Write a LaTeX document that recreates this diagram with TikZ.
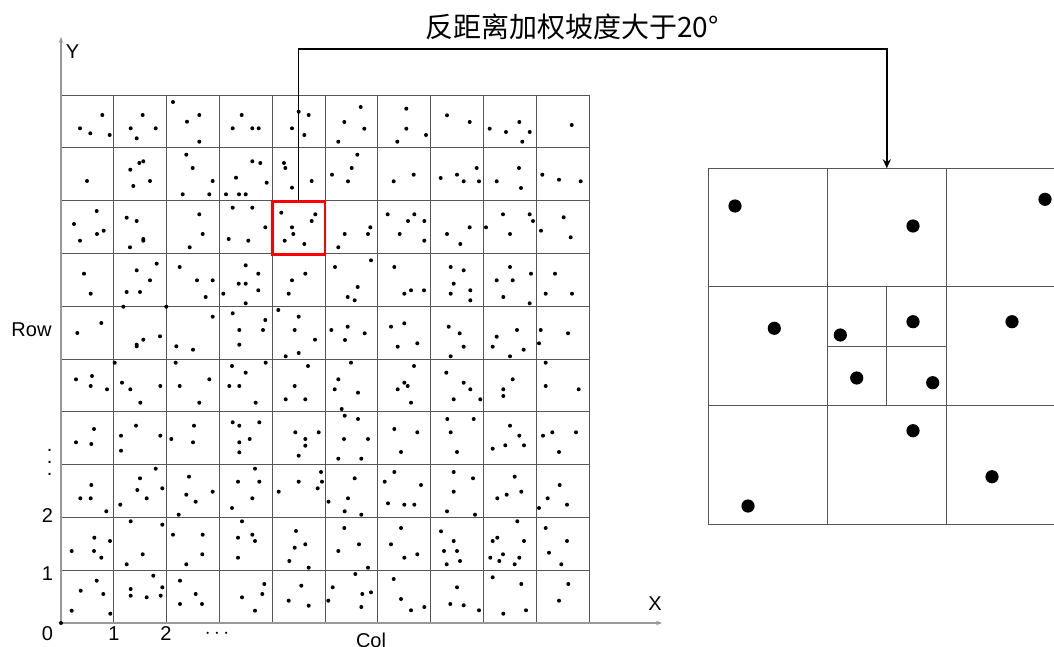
\documentclass[tikz,border=0pt]{standalone}
\usepackage{fontspec}
\setmainfont{Liberation Sans}
\newfontfamily\cjk{Noto Sans CJK SC}
\usetikzlibrary{arrows.meta}
\definecolor{gridc}{HTML}{555555}
\definecolor{axisc}{HTML}{999999}
\definecolor{boxred}{HTML}{FF0000}
\tikzset{
  gridline/.style={draw=gridc, line width=0.9pt},
  axisline/.style={draw=axisc, line width=1.4pt, -{Stealth[length=6pt,width=4.5pt]}},
  smalldot/.style={fill=black},
  bigdot/.style={fill=black},
  lbl/.style={font=\fontsize{20}{23}\selectfont, inner sep=0pt},
  conn/.style={draw=black, line width=1.6pt, -{Stealth[length=9pt,width=8pt]}},
  redframe/.style={draw=boxred, line width=2.6pt, inner sep=0pt, outer sep=0pt,
     minimum width=52.8pt, minimum height=52.8pt},
  panelframe/.style={draw=gridc, line width=0.9pt, inner sep=0pt, outer sep=0pt,
     minimum width=357pt, minimum height=356pt}
}
\begin{document}
\begin{tikzpicture}[x=1pt,y=-1pt]
\useasboundingbox (0,0) rectangle (1054,647);
\clip (0,0) rectangle (1054,647);
% grid
\foreach \i in {0,...,10}{
  \draw[gridline] ({61+52.8*\i},95) -- ({61+52.8*\i},623);
  \draw[gridline] (61,{95+52.8*\i}) -- (589,{95+52.8*\i});
}
% small dots
\foreach \x/\y in {
102.3/115, 80/128.3, 90.3/133.3, 109.7/135,
142.7/115, 130.7/128.3, 155.7/128.3, 136.7/138.3,
173/102, 199.3/115, 187/121.7, 199.3/141.7,
241.7/115, 232.7/128.3, 252.3/128.3, 258.7/128.3,
298.7/111.7, 308.7/115, 292/128.3, 304.3/135,
360.7/107, 344.3/122, 364.3/128.7, 338.3/141.7,
406.3/108.7, 406.3/128.7, 426/135, 397.3/141.7,
447/115.3, 469.7/122,
489.7/128.7, 519.3/122, 506/132, 529.7/132, 522.3/141.7,
571.7/125,
87/181,
139.3/163, 143.3/161.3, 130.3/169.7, 150/181, 133.3/186,
186.3/154.7, 192.7/168, 212.7/181, 182.7/194.3, 209.3/194.3,
252.3/161.3, 260.3/163, 236/177.7, 266.7/182.7, 226/194.3, 239/194.3, 245.7/194.3,
284/163, 285.3/168, 311.7/181, 292/187.7,
357.3/154.7, 351.7/168, 332/174.7, 348/181.3,
413.7/174.7, 393.7/181.3,
476.7/168, 440.7/178, 457/174.7, 463.7/181.3, 479/181.3,
519/168, 496.7/181.3, 521/188,
542.3/174.7, 559/179.7, 580.7/181.3,
96.7/211, 74/224, 103.7/230.7, 97/234, 80/240.7,
126.7/217.7, 136.7/221, 143.3/239, 143.3/240.7, 130/247.3,
199.3/214.3, 202.7/234, 189.7/247.3,
232.7/207.7, 252.3/207.7, 265.3/227.3, 228.7/239, 248.3/240.7,
281.3/212.7, 315.3/214.3, 311.7/221, 292/227.3, 293.3/234, 284.7/240.7, 304.3/244,
370.3/227.3, 344.7/234, 368/234, 338.3/247.3,
387.7/214.3, 414.3/214.3, 408/221, 424.3/221, 399.7/234, 424.3/240.7,
469.7/227.3, 447/234, 460.3/244,
503/214.3, 529.7/214.3, 533/221, 486/227.3, 510/234,
563.7/217.3, 541/230.7, 570.7/237.3,
84/273.7, 90.7/293.7,
156.7/263.7, 136.7/270.3, 150/280.3, 126.7/292, 140/292, 123.3/306.7,
179.7/267, 197/280.3, 212.7/280.3, 205.7/297, 166.3/306.7,
245.7/265.3, 258.3/273.7, 238.7/283.7, 245.7/283.7, 258.3/290.3, 223.3/293.7, 245.7/303.3,
305.3/273.7, 292/280.3, 288.7/293.7,
335/267, 371/260.3, 357.7/287, 347.7/297, 354.7/300.3,
394.3/267, 411/290.3, 404.3/293.7, 424/290.3,
450.7/267, 463.7/270.3, 453.7/283.7, 450.7/293.7, 470.3/290.3, 470.3/300.3,
510/267, 531/273.7, 496.7/280.3, 512.7/280.3, 503.3/297, 529.7/303.3,
555/273.7, 545.7/293.7, 572/293.7,
101.3/323, 77.3/333,
143.3/339.7, 136.7/344.7, 136.7/346.3, 160/336.3,
212.7/316.7, 176.3/346.3, 193/349.7,
232.7/313.3, 265.3/320, 239.3/330, 263/330, 239.3/344.7,
278.3/310, 298.7/316.7, 294.7/330, 315/339.7, 298.7/353, 285.7/356.3,
347.7/326.7, 331.3/330, 364.7/333.3, 345/340,
404.3/323.3, 391/326.7, 417.3/343.3, 397.7/346.7,
448.7/326.7, 459.7/333.3, 463.7/346.7, 450.7/356.3,
517/330, 496.7/336.7, 492.7/346.7, 523.7/349.7, 510/356.3,
540.7/330, 568/333.3, 539/343.3,
92/376, 76/379.3, 90.7/386, 107/389.3,
114.7/362.7, 122/382.7, 130.3/389.3, 160.3/386, 140.3/402.7,
175.7/362.7, 209.3/379.3, 179.7/386, 199.3/402.7,
232/366, 265.7/362.7, 245.7/372.7, 229.3/386, 239.3/386, 255.7/402.7,
308/366, 294.7/386, 285.7/399.3, 305.3/399.3,
351/362.7, 338.3/379.3, 334.7/389.3, 358/392.7, 341.7/409,
414/366, 404.3/382.7, 407.7/386, 397.7/389.3, 411/402.7,
446.3/372.7, 463.7/382.7, 470.3/389.3, 453.7/399.3, 480.3/399.3,
512.7/379.3, 503.3/389.3, 503.3/396,
545.7/362.7, 545.7/386, 578.7/389.3,
94/429, 76/442.3, 91.3/444,
136/425.7, 121/435.7, 160.3/435.7, 121/450.7,
194/425.7, 171.3/439, 193/442.3,
232.7/422.3, 239.3/425.7, 259.3/422.3, 249.7/439, 239.3/442.3, 239.3/452.3,
295.3/432.3, 318.7/432.3, 305.3/439, 305.3/445.7, 298.7/455.7,
344.7/415.7, 358/419, 344/439, 368/439, 338.3/458.7, 361.3/458.7,
394.3/429, 417.3/432.3, 401/452,
447.3/419, 473.7/419, 450.7/432.3, 457/452,
510/425.7, 519.3/435.7, 505.3/445.3, 524/445.3, 492.7/448.7,
552.3/432.3, 543/435.7, 576/432.3, 559/452,
91.3/485, 80.3/498.3, 90.7/498.3, 106.3/511.3,
155.7/468.7, 140/478.3, 137.3/490, 146.7/498.3, 162.3/488.3, 120.3/504.7,
189/476.7, 212.7/491.7, 186.3/494.7, 195.7/501.7, 178.7/514.7,
255/468.7, 238/481.7, 259.3/481.7, 252.3/498.3, 232/508,
298.7/481.7, 321/472, 322/481.7, 317.7/488.3, 278.7/491.7,
354.7/478.3, 348/498.3, 328.5/501.7, 344.7/511.3, 361.3/514.7,
394.3/472, 384.7/481.7, 421/485, 388/503.3, 404.3/504.7, 414.3/504.7,
453.7/472, 473/478.3, 453.7/491.7, 447/511.3, 475/514.7,
514.7/476.7, 521.3/491.7, 506.7/494.7, 497.3/498.3,
559.7/485, 547.7/498.3, 567/504.7, 539/508,
94.3/537.7, 71.7/551, 94/551, 110/541, 101.3/557.7,
130.7/521.3, 162.3/524.7, 142.7/554.3, 126.7/564.3,
173/534.7, 202.7/534.7, 202.3/554.3, 186.3/564.3,
242/521.3, 238/537.7, 252.3/534.7, 255/541, 238/557.7,
296/531, 294.7/547.7, 305.3/544.3, 289.3/561, 308.7/567.7,
344.3/528, 359/544.3, 338.3/551, 368/567.7,
401/528, 391/544.3, 417.3/554.3, 404.3/557.7,
441/531.3, 453.7/541, 444/551, 457/551, 460/561, 446.7/564.3,
517.3/521.3, 497.3/537.7, 492.7/541, 524/541, 503/554.3, 490.3/557.7, 499.3/561, 519.3/557.7, 514.7/564.3,
545.7/528, 567/541, 549/552.7, 561.3/564.3,
96.7/580.7, 80.7/590.7, 103.3/594, 71.7/610.7, 110.3/613.7,
153.3/575.7, 162.3/587.3, 130.7/589, 130.7/595.7, 146.7/597.3, 160.7/595.7,
180/580.7, 195.7/594, 180/604, 202/604,
264.3/584, 262.3/594, 242/597.3, 255/610.7,
301.3/585.7, 288.7/600.7, 308.7/605.7,
355.3/574, 332.7/587.3, 362.3/594, 371/592.3, 328.3/600.7, 361.3/607,
393.7/579, 401/599, 411/610.3, 424.3/607,
457/587.3, 450.3/604, 463.7/605.3, 479/610.3,
492.7/577.3, 521.3/584, 503.3/613.7, 526/610.3,
568.3/584, 559/600.7}
  \fill[smalldot] (\x,\y) circle[radius=2pt];
% axes
\coordinate (O) at (61,623);
\coordinate (yend) at (61,37);
\coordinate (xend) at (662,623);
\draw[axisline] (O) -- (yend);
\draw[axisline] (O) -- (xend);
\fill[smalldot] (O) circle[radius=2pt];
% axis labels
\node[lbl] (lY) at (72.5,52) {Y};
\node[lbl] (lX) at (655,604) {X};
\node[lbl] (lRow) at (31.5,330) {Row};
\node[lbl] (lCol) at (371,640) {Col};
\node[lbl] (l0) at (47.5,633.5) {0};
\node[lbl] (lx1) at (114,633.5) {1};
\node[lbl] (lx2) at (166,633.5) {2};
\node[lbl] (lxd) at (217,633.5) {$\cdots$};
\node[lbl] (ly1) at (47.5,573.5) {1};
\node[lbl] (ly2) at (47.5,516) {2};
\node[inner sep=0pt, align=center, font=\fontsize{20}{11.7}\selectfont] (lyd) at (49.7,462.5) {.\\.\\.};
% red box
\node[redframe, anchor=north west] (redbox) at (272.2,201.4) {};
% right panel
\node[panelframe, anchor=north west] (panel) at (708.3,168.3) {};
\draw[gridline] (827.3,168.3) -- (827.3,524.3);
\draw[gridline] (946.3,168.3) -- (946.3,524.3);
\draw[gridline] (708.3,286.7) -- (1065,286.7);
\draw[gridline] (708.3,405.7) -- (1065,405.7);
\draw[gridline] (886.8,286.7) -- (886.8,405.7);
\draw[gridline] (827.3,346.3) -- (946.3,346.3);
\foreach \x/\y in {735/206, 913/226, 1045/199.3, 774.3/328.3, 840.3/335, 913/321.7,
  1012/321.7, 856.7/378, 932.7/382.7, 913/430.7, 992/476.7, 748/506}
  \fill[bigdot] (\x,\y) circle[radius=6.6pt];
% connector
\coordinate (bend) at (886.8,49.3);
\draw[conn] (redbox.north) |- (bend) -- (panel.north);
% title
\node[inner sep=0pt, font=\cjk\fontsize{28}{32}\selectfont] (title) at (572,27) {反距离加权坡度大于20°};
\end{tikzpicture}
\end{document}
